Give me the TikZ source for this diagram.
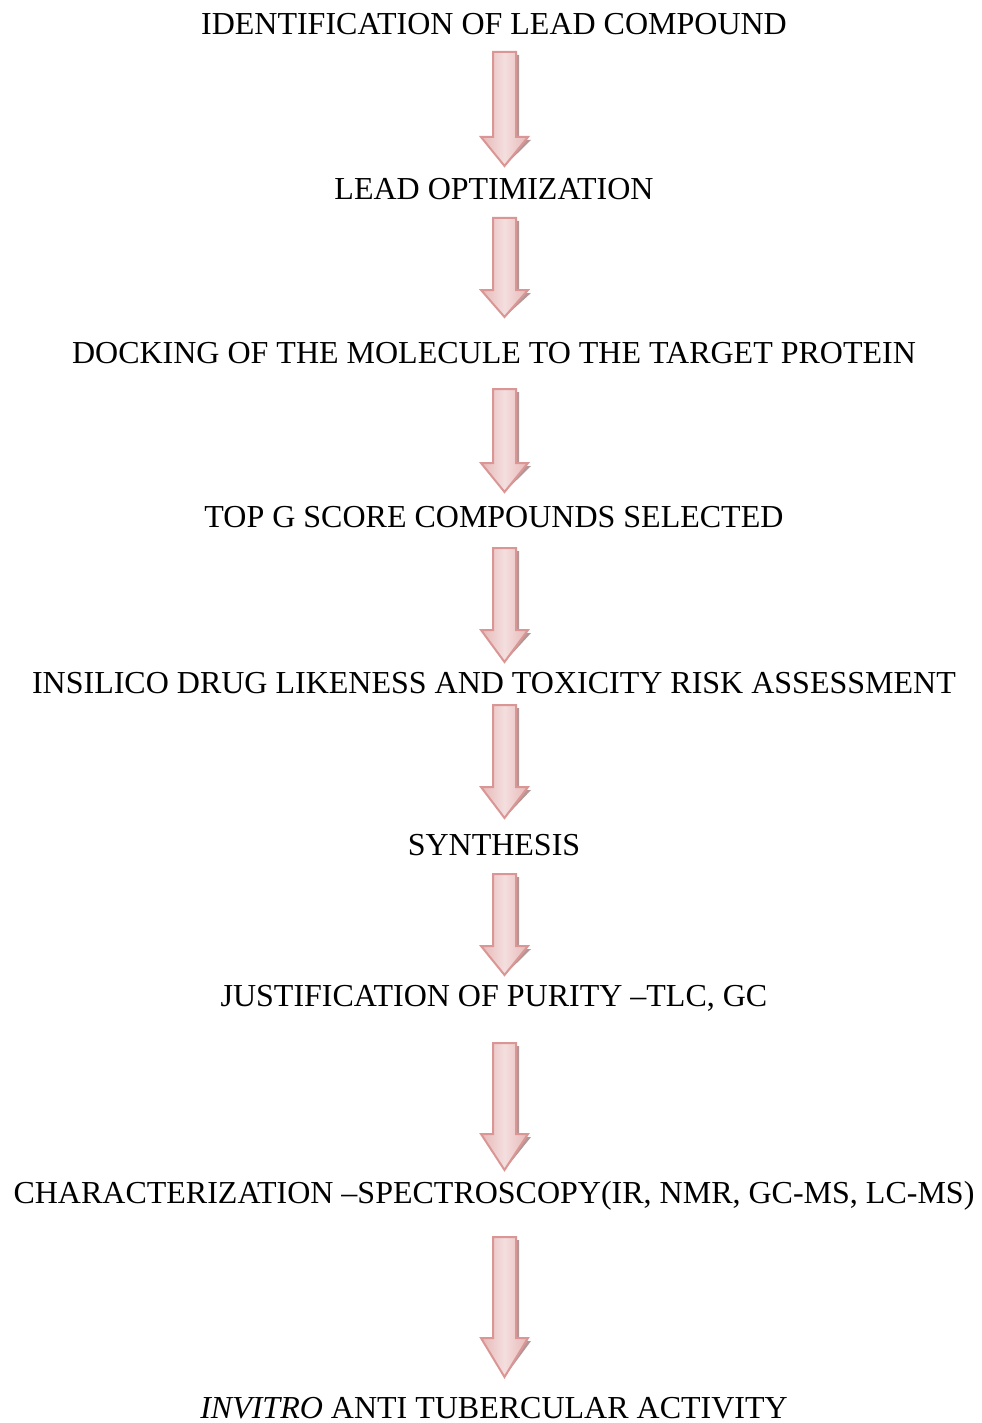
\documentclass[tikz,border=0pt]{standalone}
\usepackage{fontspec}
\setmainfont{Liberation Serif}
\begin{document}
\begin{tikzpicture}[
			x=0.5pt, y=-0.5pt,
			testo/.style={anchor=base, inner sep=0pt, font=\fontsize{16}{19}\selectfont, black},
			freccia/.style={draw=bordo, line width=1pt, line join=miter, left color=rosa, right color=rosa, middle color=rosachiaro},
			ombra/.style={fill=grigio, draw=none}]
			
			\definecolor{bordo}{RGB}{217,150,148}
			\definecolor{rosa}{RGB}{230,184,183}
			\definecolor{rosachiaro}{RGB}{244,222,222}
			\definecolor{grigio}{RGB}{178,150,150}
			
			\useasboundingbox (0,0) rectangle (981,1423);
			
			\def\xT{494}       %% centro dei testi
			\def\xF{504.5}     %% asse delle frecce
			\def\fs{11.5}      %% mezza larghezza del fusto
			\def\fp{23.5}      %% mezza larghezza della punta
			
			%% --- fasi del processo ---
			\node[testo] (fase1) at (\xT,35)   {IDENTIFICATION OF LEAD COMPOUND};
			\node[testo] (fase2) at (\xT,200)  {LEAD OPTIMIZATION};
			\node[testo] (fase3) at (\xT,363)  {DOCKING OF THE MOLECULE TO THE TARGET PROTEIN};
			\node[testo] (fase4) at (\xT,527)  {TOP G SCORE COMPOUNDS SELECTED};
			\node[testo] (fase5) at (\xT,693)  {INSILICO DRUG LIKENESS AND TOXICITY RISK ASSESSMENT};
			\node[testo] (fase6) at (\xT,855)  {SYNTHESIS};
			\node[testo] (fase7) at (\xT,1006) {JUSTIFICATION OF PURITY \textendash TLC, GC};
			\node[testo] (fase8) at (\xT,1203) {CHARACTERIZATION \textendash SPECTROSCOPY(IR, NMR, GC-MS, LC-MS)};
			\node[testo] (fase9) at (\xT,1418) {\textit{INVITRO} ANTI TUBERCULAR ACTIVITY};
			
			%% --- frecce a blocco: inizio fusto / inizio punta / vertice ---
			\foreach \i/\yt/\yh/\yp in {1/52/137/166, 2/218/290/317, 3/389/463/492, 4/548/630/662,
				5/705/787/818, 6/874/946/975, 7/1043/1134/1170, 8/1237/1338/1377}{
				\coordinate (cima\i) at (\xF,\yt);
				\coordinate (punta\i) at (\xF,\yp);
				%% ombra spostata in basso a destra
				\fill[ombra, shift={(3,3)}] (\xF-\fs,\yt) -- (\xF+\fs,\yt) -- (\xF+\fs,\yh) -- (\xF+\fp,\yh)
					-- (punta\i) -- (\xF-\fp,\yh) -- (\xF-\fs,\yh) -- cycle;
				\draw[freccia] (\xF-\fs,\yt) -- (\xF+\fs,\yt) -- (\xF+\fs,\yh) -- (\xF+\fp,\yh)
					-- (punta\i) -- (\xF-\fp,\yh) -- (\xF-\fs,\yh) -- cycle;
			}
			
		\end{tikzpicture}
\end{document}
